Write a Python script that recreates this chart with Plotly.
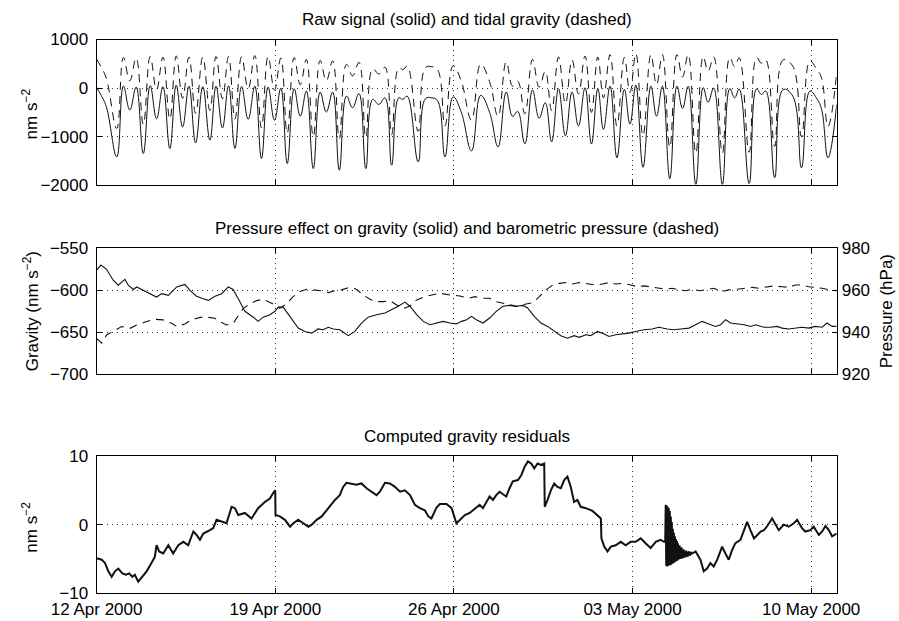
import datetime as dt
import plotly.graph_objects as go

START = dt.datetime(2000, 4, 12)

# ---- Panel 1: raw signal (solid) and tidal gravity (dashed), turning points, nm/s^2
raw_days = [0.00, 0.18, 0.38, 0.79, 1.05, 1.30, 1.55, 1.83, 2.10, 2.35, 2.60, 2.87, 3.12, 3.37,
            3.62, 3.88, 4.16, 4.44, 4.68, 4.93, 5.17, 5.42, 5.68, 5.94, 6.20, 6.46, 6.72, 6.97,
            7.22, 7.47, 7.74, 7.98, 8.22, 8.49, 8.76, 9.00, 9.25, 9.51, 9.79, 10.03, 10.28, 10.55,
            10.82, 11.06, 11.30, 11.56, 11.84, 12.00, 12.17, 12.60, 12.88, 13.12, 13.36, 13.65,
            13.97, 14.28, 14.69, 15.05, 15.40, 15.73, 16.05, 16.30, 16.50, 16.78, 17.08, 17.34,
            17.58, 17.83, 18.10, 18.37, 18.63, 18.88, 19.14, 19.39, 19.64, 19.86, 20.12, 20.39,
            20.68, 20.90, 21.13, 21.41, 21.72, 21.94, 22.17, 22.46, 22.74, 22.96, 23.18, 23.48,
            23.77, 23.96, 24.18, 24.52, 24.81, 25.00, 25.18, 25.57, 25.86, 26.05, 26.22, 26.57,
            26.90, 27.28, 27.62, 27.95, 28.20, 28.40, 28.66, 29.00]
raw_signal = [20, -150, -380, -1415, 40, -450, 20, -1346, 50, -630, 30, -1243, 60, -800,
              40, -1127, 30, -1070, 40, -820, 50, -1243, 30, -640, 40, -1450, 20, -660,
              0, -1553, -14, -576, -62, -1656, -82, -494, -82, -1690, -165, -405, -110, -1656,
              -233, -336, -200, -1587, -200, -233, -165, -1518, -220, -200, -260, -1415,
              -180, -480, -1292, -150, -500, -1209, -82, -580, -480, -1146, -41, -620,
              -300, -1106, -14, -980, -80, -780, 7, -1150, -14, -850, 40, -1436,
              -27, -740, 60, -1630, 40, -576, 40, -1866, 40, -420, 40, -1980,
              10, -290, 0, -1980, -10, -200, -20, -1965, -14, -130, -60, -1845,
              -30, -165, -1640, -60, -200, -420, -1434, -340]
tidal_gravity = [595, 430, 200, -830, 630, 150, 620, -750, 650, -30, 635, -640, 660, -210,
                 640, -520, 640, -460, 650, -220, 650, -640, 645, -10, 670, -820, 650, -40,
                 620, -930, 630, 70, 590, -1000, 570, 150, 560, -1040, 490, 250, 530, -1020,
                 400, 290, 430, -960, 420, 380, 450, -890, 420, 440, 380, -780,
                 460, 160, -660, 490, 130, -580, 540, 40, 140, -530, 590, 20,
                 340, -460, 640, -320, 580, -120, 660, -500, 640, -200, 690, -780,
                 630, -90, 710, -980, 690, 70, 690, -1220, 690, 230, 690, -1340,
                 650, 350, 640, -1340, 630, 440, 620, -1320, 630, 510, 580, -1200,
                 580, 450, -1000, 560, 400, 220, -790, 300]

# ---- Panel 2: pressure effect on gravity (nm/s^2) and barometric pressure (hPa)
effect_days = [0.00, 0.17, 0.39, 0.65, 0.85, 1.11, 1.24, 1.44, 1.57, 1.83, 2.09, 2.35, 2.55,
               2.81, 3.14, 3.46, 3.66, 3.92, 4.18, 4.38, 4.64, 4.90, 5.16, 5.35, 5.62, 5.81,
               6.14, 6.33, 6.53, 6.79, 6.99, 7.12, 7.31, 7.58, 7.90, 8.16, 8.43, 8.68, 8.88,
               9.08, 9.27, 9.53, 9.86, 10.12, 10.38, 10.64, 10.97, 11.30, 11.56, 11.82, 12.08,
               12.28, 12.54, 12.80, 13.06, 13.32, 13.58, 13.84, 14.10, 14.30, 14.50, 14.69,
               14.88, 15.14, 15.40, 15.66, 15.92, 16.18, 16.44, 16.70, 16.89, 17.15, 17.41,
               17.67, 17.93, 18.19, 18.45, 18.71, 18.91, 19.17, 19.36, 19.62, 19.89, 20.08,
               20.34, 20.60, 20.86, 21.12, 21.45, 21.77, 22.03, 22.36, 22.62, 22.88, 23.21,
               23.47, 23.73, 23.99, 24.25, 24.45, 24.65, 24.84, 25.10, 25.37, 25.63, 25.82,
               26.15, 26.41, 26.67, 26.86, 27.12, 27.38, 27.64, 27.90, 28.16, 28.43, 28.62,
               28.82, 29.00]
pressure_effect = [-576, -570, -575, -588, -594, -587, -594, -599, -596, -600, -604, -608, -604,
                   -606, -596, -593, -600, -607, -610, -612, -607, -604, -596, -599, -614, -625,
                   -632, -637, -632, -629, -625, -620, -620, -632, -645, -649, -651, -646, -647,
                   -644, -646, -647, -654, -649, -639, -632, -629, -627, -623, -619, -614,
                   -619, -629, -637, -641, -639, -637, -639, -640, -637, -635, -631,
                   -635, -639, -633, -625, -619, -618, -619, -618, -621, -631, -639,
                   -643, -649, -654, -657, -654, -656, -653, -654, -649, -652, -655,
                   -653, -652, -651, -649, -647, -646, -644, -646, -647, -646, -645,
                   -641, -637, -640, -643, -641, -635, -639, -640, -641, -643, -641,
                   -644, -644, -643, -645, -646, -645, -644, -645, -643, -644, -639,
                   -643, -643]

baro_days = [0.00, 0.20, 0.39, 0.72, 0.98, 1.31, 1.57, 1.96, 2.28, 2.61, 2.94, 3.14, 3.46,
             3.72, 4.05, 4.38, 4.64, 4.83, 5.09, 5.35, 5.55, 5.75, 6.01, 6.27, 6.53, 6.79,
             6.99, 7.18, 7.44, 7.70, 7.97, 8.23, 8.55, 8.81, 9.08, 9.34, 9.60, 9.92, 10.18,
             10.45, 10.71, 10.97, 11.23, 11.49, 11.76, 12.02, 12.28, 12.54, 12.87, 13.19,
             13.45, 13.84, 14.23, 14.56, 14.82, 15.08, 15.40, 15.66, 15.92, 16.18, 16.51,
             16.83, 17.09, 17.35, 17.61, 17.87, 18.13, 18.39, 18.65, 18.91, 19.24, 19.56,
             19.82, 20.08, 20.34, 20.67, 20.93, 21.19, 21.45, 21.77, 22.03, 22.29, 22.55,
             22.82, 23.08, 23.34, 23.66, 23.92, 24.18, 24.51, 24.77, 25.10, 25.37, 25.69,
             25.95, 26.28, 26.54, 26.86, 27.12, 27.38, 27.64, 27.90, 28.16, 28.43, 28.69,
             29.00]
baro_pressure = [937.1, 934.8, 938.7, 941.1, 942.7, 941.9, 943.5, 945.1, 946.2, 945.9, 944.3,
                 942.7, 944.0, 945.9, 947.1, 947.1, 946.7, 945.1, 943.5, 944.3, 947.8, 951.4,
                 953.5, 955.1, 955.7, 954.1, 953.0, 951.4, 953.5, 957.0, 959.4, 960.5, 960.2,
                 959.8, 958.9, 959.8, 960.2, 961.4, 960.5, 957.8, 955.7, 954.6, 954.6, 955.1,
                 953.0, 951.4, 952.5, 955.4, 957.0, 957.8, 958.6, 957.8, 957.3, 956.2, 957.0,
                 956.2, 956.2, 954.6, 953.8, 953.0, 952.2, 953.5, 954.1, 957.0, 960.2, 962.5,
                 963.3, 963.7, 963.0, 963.7, 963.0, 962.5, 963.0, 963.7, 963.0, 963.3, 962.5,
                 961.7, 962.1, 961.4, 961.0, 960.5, 961.0, 960.2, 959.8, 960.5, 959.8, 960.5,
                 961.0, 959.4, 960.2, 960.5, 961.0, 961.4, 961.0, 961.7, 962.1, 961.7, 961.4,
                 962.5, 962.5, 961.7, 961.4, 961.0, 960.2, 959.8]

# ---- Panel 3: computed gravity residuals (nm/s^2)
resid_days = [0.00, 0.20, 0.33, 0.46, 0.59, 0.72, 0.85, 1.01, 1.15, 1.28, 1.40, 1.50, 1.63,
              1.77, 1.96, 2.15, 2.28, 2.35, 2.45, 2.61, 2.81, 3.00, 3.20, 3.40, 3.59, 3.79,
              3.92, 4.05, 4.18, 4.44, 4.57, 4.70, 4.90, 5.09, 5.29, 5.42, 5.55, 5.81, 6.07,
              6.33, 6.59, 6.79, 6.92, 7.00, 7.01, 7.18, 7.38, 7.58, 7.71, 7.90, 8.10, 8.30,
              8.43, 8.62, 8.82, 9.08, 9.34, 9.53, 9.66, 9.79, 9.99, 10.18, 10.38, 10.58,
              10.77, 10.97, 11.10, 11.30, 11.49, 11.69, 11.89, 12.08, 12.28, 12.47, 12.67,
              12.86, 13.00, 13.12, 13.32, 13.45, 13.71, 13.91, 14.10, 14.23, 14.43, 14.62,
              14.75, 14.88, 15.01, 15.14, 15.27, 15.40, 15.53, 15.66, 15.79, 15.92, 16.05,
              16.18, 16.31, 16.51, 16.64, 16.77, 16.90, 17.03, 17.15, 17.28, 17.41, 17.54,
              17.56, 17.67, 17.80, 17.93, 18.06, 18.19, 18.32, 18.45, 18.58, 18.71, 18.84,
              18.97, 19.17, 19.43, 19.62, 19.76, 19.78, 19.89, 20.02, 20.15, 20.34, 20.54,
              20.73, 20.93, 21.12, 21.32, 21.51, 21.71, 21.91, 22.10, 22.23, 22.28,
              22.30, 22.32, 22.34, 22.36, 22.38, 22.40, 22.42, 22.44, 22.46, 22.48, 22.50,
              22.52, 22.54, 22.56, 22.58, 22.60, 22.62, 22.64, 22.66, 22.68, 22.70, 22.72,
              22.74, 22.76, 22.78, 22.80, 22.84, 22.88, 22.92, 22.96, 23.00, 23.05, 23.10,
              23.15, 23.20, 23.25, 23.30,
              23.34, 23.47, 23.66, 23.79, 23.92, 24.05, 24.18, 24.32, 24.51, 24.64, 24.77,
              24.90, 25.03, 25.23, 25.36, 25.49, 25.62, 25.76, 25.89, 26.02, 26.15, 26.28,
              26.47, 26.60, 26.73, 26.93, 27.12, 27.32, 27.45, 27.64, 27.77, 27.97, 28.10,
              28.30, 28.43, 28.56, 28.69, 28.82, 29.00]
residuals = [-4.9, -5.1, -5.6, -6.8, -7.6, -6.8, -6.4, -7.1, -7.3, -7.1, -7.6, -7.3, -8.3,
             -7.6, -6.8, -5.6, -4.7, -3.0, -3.9, -4.2, -3.0, -4.2, -3.0, -2.5, -3.0, -1.0,
             -1.5, -2.2, -1.3, -0.8, -0.5, 0.7, 0.4, 0.2, 2.6, 2.4, 1.4, 1.7, 0.9,
             2.4, 3.3, 3.8, 4.6, 5.0, 1.4, 1.2, 0.7, -0.3, 0.2, 0.7, 0.2, -0.3,
             0.0, 0.7, 1.2, 2.4, 3.6, 4.3, 5.5, 6.1, 5.9, 5.8, 6.0, 5.3,
             4.8, 4.3, 4.8, 6.1, 6.0, 5.5, 4.8, 5.0, 4.3, 2.9, 2.4,
             2.1, 1.2, 0.9, 2.5, 3.0, 3.0, 2.4, 0.2, 0.7, 1.4, 1.7,
             2.1, 2.6, 2.9, 2.4, 3.3, 4.1, 3.6, 4.3, 4.8, 4.5, 4.1,
             5.3, 6.3, 6.5, 7.2, 8.4, 9.2, 8.9, 8.2, 8.9, 8.7, 8.9,
             2.6, 3.6, 5.0, 6.0, 5.5, 5.3, 6.5, 7.0, 5.5, 3.3, 3.6,
             2.6, 2.4, 2.0, 1.4, 0.9, -2.0, -3.2, -3.9, -3.2, -3.0, -2.5,
             -3.0, -2.5, -2.5, -2.0, -2.7, -3.4, -2.5, -2.2, -2.5, -2.5,
             2.9, -6.0, 2.8, -6.1, 2.6, -6.0, 2.4, -5.9, 2.0, -5.9, 1.2,
             -5.8, 0.4, -5.7, -0.6, -5.6, -1.2, -5.5, -1.7, -5.4, -2.1, -5.3,
             -2.4, -5.2, -2.7, -5.1, -3.0, -5.0, -3.3, -4.9, -3.6, -4.8, -3.8,
             -4.7, -3.9, -4.5, -4.0,
             -4.2, -3.9, -5.1, -6.8, -6.4, -5.6, -6.1, -5.1, -3.2, -4.2, -5.1,
             -3.7, -2.7, -2.2, -1.0, 0.4, -0.8, -2.0, -1.5, -1.0, -0.8, -0.2,
             0.9, 0.0, -0.8, 0.0, -0.3, 0.2, 0.7, -0.5, -1.0, -0.8, -0.3,
             -1.5, -1.0, -0.2, -0.8, -1.7, -1.3]

# ---- Axis ticks and labels
date_ticks = ["2000-04-12", "2000-04-19", "2000-04-26", "2000-05-03", "2000-05-10"]
date_labels = ["12 Apr 2000", "19 Apr 2000", "26 Apr 2000", "03 May 2000", "10 May 2000"]
raw_ticks = [-2000, -1000, 0, 1000]
effect_ticks = [-700, -650, -600, -550]
baro_ticks = [920, 940, 960, 980]
resid_ticks = [-10, 0, 10]


def to_dates(days):
    return [START + dt.timedelta(days=d) for d in days]


W, H = 899, 621
FONT = "Liberation Sans, Arial, Helvetica, sans-serif"
FS = 17
DASH = "8px,6px"

# plot boxes in pixels (left, right, top, bottom)
X0, X1 = 96.6, 836.7
boxes = [(39.5, 185.3), (248.3, 374.3), (456.0, 593.3)]


def ydom(top, bottom):
    return [1 - bottom / H, 1 - top / H]


fig = go.Figure()

fig.add_trace(go.Scatter(x=to_dates(raw_days), y=tidal_gravity, mode="lines",
                         line=dict(color="#111", width=1, dash=DASH, shape="spline",
                                   smoothing=1.2),
                         xaxis="x", yaxis="y", showlegend=False))
fig.add_trace(go.Scatter(x=to_dates(raw_days), y=raw_signal, mode="lines",
                         line=dict(color="#111", width=1, shape="spline", smoothing=1.2),
                         xaxis="x", yaxis="y", showlegend=False))

fig.add_trace(go.Scatter(x=to_dates(effect_days), y=pressure_effect, mode="lines",
                         line=dict(color="#111", width=1.1),
                         xaxis="x2", yaxis="y2", showlegend=False))
fig.add_trace(go.Scatter(x=to_dates(baro_days), y=baro_pressure, mode="lines",
                         line=dict(color="#111", width=1.1, dash=DASH),
                         xaxis="x2", yaxis="y4", showlegend=False))

fig.add_trace(go.Scatter(x=to_dates(resid_days), y=residuals, mode="lines",
                         line=dict(color="#111", width=2),
                         xaxis="x3", yaxis="y3", showlegend=False))

tickfont = dict(family=FONT, size=FS, color="black")
common_x = dict(type="date", range=["2000-04-12", "2000-05-11"], domain=[X0 / W, X1 / W],
                tickvals=date_ticks, ticktext=date_labels, showline=True, linecolor="black",
                linewidth=1, mirror="ticks", ticks="inside", ticklen=5, tickcolor="black",
                showgrid=True, gridcolor="#333", gridwidth=1, griddash="1px,4px",
                zeroline=False, tickfont=tickfont, fixedrange=True, automargin=False)
common_y = dict(showline=True, linecolor="black", linewidth=1, mirror="ticks",
                ticks="inside", ticklen=5, tickcolor="black", showgrid=True,
                gridcolor="#333", gridwidth=1, griddash="1px,4px", zeroline=False,
                tickfont=tickfont, fixedrange=True, ticklabelstandoff=4, automargin=False)

fig.update_layout(
    width=W, height=H, margin=dict(l=0, r=0, t=0, b=0, autoexpand=False),
    paper_bgcolor="white", plot_bgcolor="white",
    font=dict(family=FONT, size=FS, color="black"),
    xaxis=dict(common_x, anchor="y", showticklabels=False),
    xaxis2=dict(common_x, anchor="y2", showticklabels=False),
    xaxis3=dict(common_x, anchor="y3", showticklabels=True, ticklabelstandoff=0),
    yaxis=dict(common_y, domain=ydom(*boxes[0]), range=[-2000, 1000], tickvals=raw_ticks,
               anchor="x"),
    yaxis2=dict(common_y, domain=ydom(*boxes[1]), range=[-700, -550], tickvals=effect_ticks,
                anchor="x2", mirror=True),
    yaxis4=dict(common_y, overlaying="y2", side="right", range=[920, 980],
                tickvals=baro_ticks, anchor="x2", showgrid=False, mirror=False,
                showline=False),
    yaxis3=dict(common_y, domain=ydom(*boxes[2]), range=[-10, 10], tickvals=resid_ticks,
                anchor="x3"),
)

xc = (X0 + X1) / 2 / W
titles = ["Raw signal (solid) and tidal gravity (dashed)",
          "Pressure effect on gravity (solid) and barometric pressure (dashed)",
          "Computed gravity residuals"]
ann = []
for (top, bottom), text in zip(boxes, titles):
    ann.append(dict(text=text, x=xc, y=1 - (top - 20) / H, xref="paper", yref="paper",
                    xanchor="center", yanchor="middle", showarrow=False,
                    font=dict(family=FONT, size=FS, color="black")))

ylabels = [("nm s<sup>−2</sup>", 30, (boxes[0][0] + boxes[0][1]) / 2 + 2),
           ("Gravity (nm s<sup>−2</sup>)", 31, (boxes[1][0] + boxes[1][1]) / 2),
           ("Pressure (hPa)", 886, (boxes[1][0] + boxes[1][1]) / 2),
           ("nm s<sup>−2</sup>", 30, (boxes[2][0] + boxes[2][1]) / 2 + 3)]
for text, px, py in ylabels:
    ann.append(dict(text=text, x=px / W, y=1 - py / H, xref="paper", yref="paper",
                    xanchor="center", yanchor="middle", textangle=-90, showarrow=False,
                    font=dict(family=FONT, size=FS, color="black")))
fig.update_layout(annotations=ann)

fig.write_html("out.html")
